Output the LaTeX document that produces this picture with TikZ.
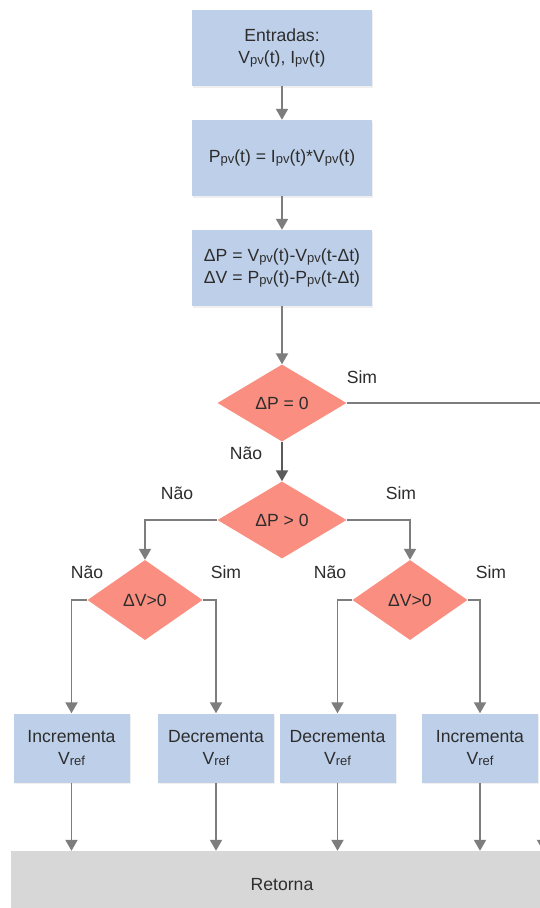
\documentclass[tikz,border=0pt]{standalone}
\usepackage{fontspec}
\setmainfont{Liberation Sans}
\usetikzlibrary{shapes.geometric,arrows.meta,shadows}

\definecolor{boxblue}{RGB}{190,208,233}
\definecolor{decred}{RGB}{250,142,128}
\definecolor{retgray}{RGB}{215,215,215}
\definecolor{linegray}{RGB}{125,125,125}
\definecolor{linedark}{RGB}{90,90,90}
\definecolor{txt}{RGB}{45,45,45}

% smaller letters for the indices (pv, ref)
\newcommand{\idx}[1]{{\fontsize{13}{13}\selectfont\raisebox{-0.8pt}{#1}}}

\begin{document}
\begin{tikzpicture}[x=1pt,y=-1pt,
  every node/.style={text=txt,font=\fontsize{17.6}{22}\selectfont},
  procbox/.style={rectangle,fill=boxblue,align=center,inner sep=0pt,
    minimum width=180pt,minimum height=76pt,
    drop shadow={opacity=0.12,shadow xshift=1.2pt,shadow yshift=-1.5pt}},
  smallbox/.style={procbox,minimum width=116pt,minimum height=69pt},
  decision/.style={diamond,fill=decred,inner sep=0pt,align=center,
    minimum width=129pt,minimum height=77pt,aspect=1.68},
  smalldecision/.style={decision,minimum width=115pt,minimum height=80pt,aspect=1.44},
  retbox/.style={rectangle,fill=retgray,inner sep=0pt},
  flow/.style={draw=linegray,line width=1.9pt,
    -{Triangle[width=12pt,length=11pt]}},
  lbl/.style={inner sep=0pt}]

\useasboundingbox (0,0) rectangle (540,908);
\fill[white] (0,0) rectangle (540,908);
\clip (0,0) rectangle (540,908);

% main column
\node[procbox] (inp) at (282,48) {Entradas:\\V\idx{pv}(t), I\idx{pv}(t)};
\node[procbox] (pow) at (282,158) {P\idx{pv}(t) = I\idx{pv}(t)*V\idx{pv}(t)};
\node[procbox] (dif) at (282,268) {ΔP = V\idx{pv}(t)-V\idx{pv}(t-Δt)\\ΔV = P\idx{pv}(t)-P\idx{pv}(t-Δt)};

\node[decision] (dz) at (282,403) {ΔP = 0};
\node[decision] (dp) at (282,520) {ΔP > 0};
\node[smalldecision] (dvl) at (145,600) {ΔV>0};
\node[smalldecision] (dvr) at (410,600) {ΔV>0};

% actions
\node[smallbox] (ia) at (71.5,748) {Incrementa\\V\idx{ref}};
\node[smallbox] (da) at (216,748) {Decrementa\\V\idx{ref}};
\node[smallbox] (db) at (337.5,748) {Decrementa\\V\idx{ref}};
\node[smallbox] (ib) at (480,748) {Incrementa\\V\idx{ref}};

\node[retbox,minimum width=542pt,minimum height=68pt] (ret) at (282,885) {Retorna};

% connectors
\draw[flow] (inp.south) -- (pow.north);
\draw[flow] (pow.south) -- (dif.north);
\draw[flow] (dif.south) -- (dz.north);
\draw[flow,draw=linedark] (dz.south) -- (dp.north);
\coordinate (farright) at (543,403);
\draw[flow] (dz.east) -- (farright) -- (farright |- ret.north);

\draw[flow] (dp.west) -| (dvl.north);
\draw[flow] (dp.east) -| (dvr.north);
\draw[flow] (dvl.west) -| (ia.north);
\draw[flow] (dvl.east) -| (da.north);
\draw[flow] (dvr.west) -| (db.north);
\draw[flow] (dvr.east) -| (ib.north);

\foreach \b in {ia,da,db,ib}
  \draw[flow] (\b.south) -- (\b.south |- ret.north);

% branch labels
\node[lbl] at (362,377) {Sim};
\node[lbl] at (246,453) {Não};
\node[lbl] at (177,493) {Não};
\node[lbl] at (401,493) {Sim};
\node[lbl] at (87,572) {Não};
\node[lbl] at (226,572) {Sim};
\node[lbl] at (330,572) {Não};
\node[lbl] at (491,572) {Sim};
\end{tikzpicture}
\end{document}
